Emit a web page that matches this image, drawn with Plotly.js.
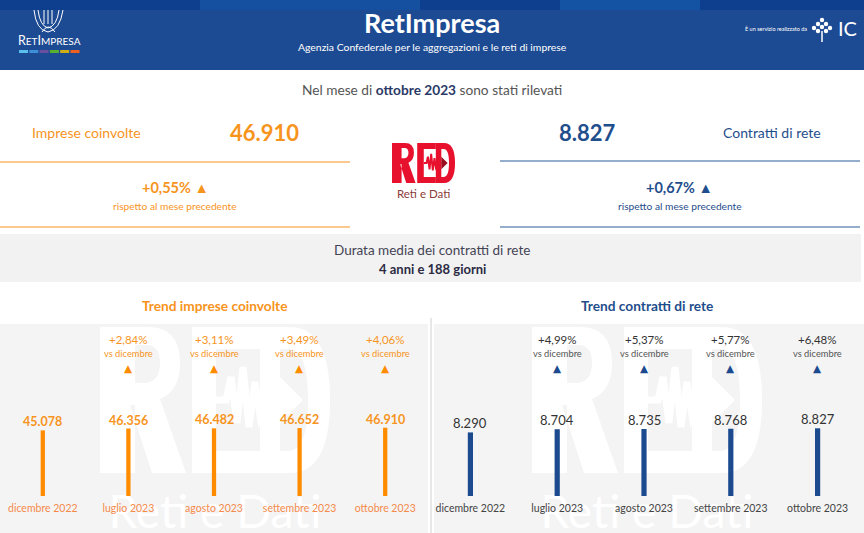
<!DOCTYPE html>
<html>
<head>
<meta charset="utf-8">
<script src="https://cdn.plot.ly/plotly-3.0.1.min.js"></script>
<style>html,body{margin:0;padding:0;background:#fff;}#chart{width:864px;height:533px;}</style>
</head>
<body>
<div id="chart"></div>
<script>
// ---- data ----
const categories = ['dicembre 2022', 'luglio 2023', 'agosto 2023', 'settembre 2023', 'ottobre 2023'];
const impreseValues = [45078, 46356, 46482, 46652, 46910];
const contrattiValues = [8290, 8704, 8735, 8768, 8827];
const impresePct = [null, 2.84, 3.11, 3.49, 4.06];
const contrattiPct = [null, 4.99, 5.37, 5.77, 6.48];
const kpiImprese = 46910;
const kpiContratti = 8827;
const kpiImpreseDelta = 0.55;
const kpiContrattiDelta = 0.67;
const durata = '4 anni e 188 giorni';
const meseLabel = 'ottobre 2023';

// ---- helpers ----
const W = 864, H = 533;
const px = x => x / W;
const py = y => 1 - y / H;
const fmtInt = v => String(v).replace(/\B(?=(\d{3})+(?!\d))/g, '.');
const fmtPct = v => '+' + v.toFixed(2).replace('.', ',') + '%';

const ORANGE = '#f7941d';
const ORANGE_BAR = '#ff8c00';
const ORANGE_LBL = '#f58a4b';
const NAVY = '#1f4e8c';
const BLUE_BAR = '#1b4a8e';
const HEADER = '#1d4b93';
const PANEL = '#f4f4f4';
const FONT = 'Lato, "Open Sans", sans-serif';

const ann = [];
function A(x, y, text, size, color, extra) {
  ann.push(Object.assign({xref: 'paper', yref: 'paper', x: px(x), y: py(y), text: text,
    showarrow: false, xanchor: 'center', yanchor: 'middle',
    font: {family: FONT, size: size, color: color}}, extra || {}));
}
const shapes = [];
function R(x0, y0, x1, y1, fill, extra) {
  shapes.push(Object.assign({type: 'rect', xref: 'paper', yref: 'paper', x0: px(x0), x1: px(x1), y0: py(y0), y1: py(y1),
    fillcolor: fill, line: {width: 0}, layer: 'below'}, extra || {}));
}
function L(x0, y0, x1, y1, color, w, layer) {
  shapes.push({type: 'line', xref: 'paper', yref: 'paper', x0: px(x0), x1: px(x1), y0: py(y0), y1: py(y1),
    line: {color: color, width: w || 1}, layer: layer || 'below'});
}
// path in local pixel coords -> paper
function P(d, s, ox, oy, fill, lineColor, lineW, layer) {
  const path = d.replace(/(-?\d+\.?\d*),(-?\d+\.?\d*)/g, (m, a, b) => px(ox + s * a) + ',' + py(oy + s * b));
  shapes.push({type: 'path', xref: 'paper', yref: 'paper', path: path, fillcolor: fill || 'rgba(0,0,0,0)',
    line: {color: lineColor || 'rgba(0,0,0,0)', width: lineW || 0}, layer: layer || 'below'});
}
// RED mark geometry (local box 230 x 146)
function redMark(s, ox, oy, col, hole, arrowCol, layer) {
  P('M0,0 L48,0 Q80,0 80,36 Q80,64 60,72 L86,146 L52,146 L30,78 L35,78 L35,146 L0,146 Z', s, ox, oy, col, null, 0, layer);
  P('M35,18 L46,18 Q60,18 60,36 Q60,54 46,56 L35,56 Z', s, ox, oy, hole, null, 0, layer);
  P('M92,0 L160,0 L160,22 L116,22 L116,124 L160,124 L160,146 L92,146 Z', s, ox, oy, col, null, 0, layer);
  P('M160,0 L190,0 Q230,0 230,73 Q230,146 190,146 L160,146 Z', s, ox, oy, col, null, 0, layer);
  P('M180,22 L188,22 Q208,22 208,73 Q208,124 188,124 L180,124 Z', s, ox, oy, hole, null, 0, layer);
  P('M116,73 L126,73 L131,50 L137,96 L143,40 L149,100 L155,55 L160,88 L166,73 L180,73', s, ox, oy, null, col, Math.max(1, 7 * s), layer);
  P('M180,50 L203,73 L180,96 Z', s, ox, oy, arrowCol, null, 0, layer);
}

// ---- header ----
R(0, 0, 864, 70, HEADER);
R(0, 0, 864, 10, '#0e3f8e');
R(200, 0, 420, 10, '#1550a0');
R(560, 0, 700, 10, '#1452a3');
A(432, 22, '<b>RetImpresa</b>', 27, '#ffffff');
A(432, 47, 'Agenzia Confederale per le aggregazioni e le reti di imprese', 10.4, '#ffffff');
A(49, 41, 'R<span style="font-size:10px">ET</span>I<span style="font-size:10px">MPRESA</span>', 12.5, '#ffffff');
// logo arcs
shapes.push({type: 'path', xref: 'paper', yref: 'paper', layer: 'above', line: {color: '#ffffff', width: 1},
  path: `M ${px(34)} ${py(10)} Q ${px(36)} ${py(30)} ${px(48)} ${py(32)} Q ${px(60)} ${py(30)} ${px(63)} ${py(10)}`});
shapes.push({type: 'path', xref: 'paper', yref: 'paper', layer: 'above', line: {color: '#ffffff', width: 1},
  path: `M ${px(38)} ${py(10)} Q ${px(40)} ${py(26)} ${px(48)} ${py(28)} Q ${px(57)} ${py(26)} ${px(59)} ${py(10)}`});
shapes.push({type: 'path', xref: 'paper', yref: 'paper', layer: 'above', line: {color: '#ffffff', width: 1},
  path: `M ${px(42)} ${py(32)} Q ${px(48)} ${py(22)} ${px(55)} ${py(32)}`});
[44, 48, 52].forEach(x => L(x, 10, x, 24, '#ffffff', 1, 'above'));
const logoColors = ['#5bc0eb', '#3d8fd6', '#6a4fa0', '#58b031', '#d1ad14', '#ee5f22'];
logoColors.forEach((c, i) => R(19 + i * 10.3, 50, 28 + i * 10.3, 53, c, {layer: 'above'}));
A(776, 29, 'È un servizio realizzato da', 5.5, '#ffffff');
A(847, 28, 'IC', 20, '#ffffff');
[[822, 20], [818, 24], [826, 24], [814, 28], [822, 27], [830, 28], [818, 31], [826, 31]].forEach(p =>
  shapes.push({type: 'circle', xref: 'paper', yref: 'paper', x0: px(p[0] - 2.2), x1: px(p[0] + 2.2), y0: py(p[1] - 2.2), y1: py(p[1] + 2.2),
    fillcolor: '#ffffff', line: {width: 0}, layer: 'above'}));
L(822, 31, 822, 42, '#ffffff', 1.5, 'above');

// ---- KPI area ----
A(432, 89, 'Nel mese di <b><span style="color:#2b3a67">' + meseLabel + '</span></b> sono stati rilevati', 13.7, '#555555');
A(86, 133, 'Imprese coinvolte', 14, ORANGE);
A(264, 133, '<b>' + fmtInt(kpiImprese) + '</b>', 22, ORANGE);
L(0, 162, 350, 162, ORANGE, 1.2);
L(0, 227, 350, 227, ORANGE, 1.2);
A(175, 187, '<b>' + fmtPct(kpiImpreseDelta) + ' ▲</b>', 14.5, ORANGE);
A(175, 206, 'rispetto al mese precedente', 10.2, ORANGE);

A(587, 133, '<b>' + fmtInt(kpiContratti) + '</b>', 22, NAVY);
A(772, 132, 'Contratti di rete', 14, NAVY);
L(500, 161, 860, 161, '#2f5f9b', 1.2);
L(500, 227, 860, 227, '#2f5f9b', 1.2);
A(679, 187, '<b>' + fmtPct(kpiContrattiDelta) + ' ▲</b>', 14.5, NAVY);
A(680, 206, 'rispetto al mese precedente', 10.2, NAVY);

// center RED logo
redMark(0.274, 392, 143, '#e8112d', '#ffffff', '#9b1020', 'below');
A(423, 193, 'Reti e Dati', 11.5, '#8b3a3a');

// durata band
R(0, 234, 861, 282, '#f2f2f2');
A(432, 250, 'Durata media dei contratti di rete', 13.5, '#444455');
A(432, 269, '<b>' + durata + '</b>', 13, '#2b2b44');

// trend titles
A(214, 305, '<b>Trend imprese coinvolte</b>', 13.7, ORANGE);
A(647, 305, '<b>Trend contratti di rete</b>', 13.7, NAVY);

// bottom panels
R(0, 324, 428, 533, PANEL);
R(434, 324, 864, 533, PANEL);
L(431, 318, 431, 533, '#d0d0d0', 1);
// watermarks (below traces)
[100, 532].forEach(ox => {
  redMark(1, ox, 327, '#ffffff', PANEL, '#ffffff', 'below');
  R(ox - 5, 486, ox + 235, 533, 'rgba(0,0,0,0)', {label: {text: 'Reti e Dati', textposition: 'middle center',
    font: {family: FONT, size: 46, color: '#ffffff'}}});
});

// ---- chart annotations tied to axes ----
function trendAnn(values, pcts, xr, yr, valColor, valBold, valSize, pctColor, subColor, triColor) {
  values.forEach((v, i) => {
    ann.push({xref: xr, yref: yr, x: categories[i], y: v, text: valBold ? '<b>' + fmtInt(v) + '</b>' : fmtInt(v),
      showarrow: false, yanchor: 'bottom', yshift: -1, font: {family: FONT, size: valSize, color: valColor}});
    if (pcts[i] != null) {
      ann.push({xref: xr, yref: 'paper', x: categories[i], y: py(339), text: fmtPct(pcts[i]), showarrow: false,
        font: {family: FONT, size: 11.5, color: pctColor}});
      ann.push({xref: xr, yref: 'paper', x: categories[i], y: py(353), text: 'vs dicembre', showarrow: false,
        font: {family: FONT, size: 9.3, color: subColor}});
      ann.push({xref: xr, yref: 'paper', x: categories[i], y: py(361), yanchor: 'top', borderpad: 0, text: '▲', showarrow: false,
        font: {family: 'DejaVu Sans, sans-serif', size: 10.5, color: triColor}});
    }
  });
}
trendAnn(impreseValues, impresePct, 'x', 'y', ORANGE, true, 12.5, ORANGE, ORANGE, ORANGE_BAR);
trendAnn(contrattiValues, contrattiPct, 'x2', 'y2', '#333333', false, 13, '#333333', '#555555', BLUE_BAR);

const traces = [
  {type: 'bar', x: categories, y: impreseValues, marker: {color: ORANGE_BAR}, width: 0.05, xaxis: 'x', yaxis: 'y', hoverinfo: 'x+y'},
  {type: 'bar', x: categories, y: contrattiValues, marker: {color: BLUE_BAR}, width: 0.06, xaxis: 'x2', yaxis: 'y2', hoverinfo: 'x+y'}
];

const yDom = [py(496), py(330)];
const axX = (dom, color) => ({domain: dom, type: 'category', range: [-0.5, 4.5], showgrid: false, zeroline: false, showline: false,
  ticks: '', ticklabelstandoff: 4, tickfont: {family: FONT, size: 10.5, color: color}, fixedrange: true});
const layout = {
  width: W, height: H, margin: {l: 0, r: 0, t: 0, b: 0},
  paper_bgcolor: '#ffffff', plot_bgcolor: 'rgba(0,0,0,0)', showlegend: false,
  xaxis: Object.assign(axX([px(0), px(428)], ORANGE_LBL), {anchor: 'y'}),
  xaxis2: Object.assign(axX([px(427), px(861)], '#444444'), {anchor: 'y2'}),
  yaxis: {domain: yDom, range: [0, Math.max(...impreseValues) * 166 / 68.3], visible: false, fixedrange: true},
  yaxis2: {domain: yDom, range: [0, Math.max(...contrattiValues) * 166 / 67.7], visible: false, fixedrange: true, anchor: 'x2'},
  shapes: shapes, annotations: ann
};
Plotly.newPlot('chart', traces, layout, {displayModeBar: false, staticPlot: true});
</script>
</body>
</html>
